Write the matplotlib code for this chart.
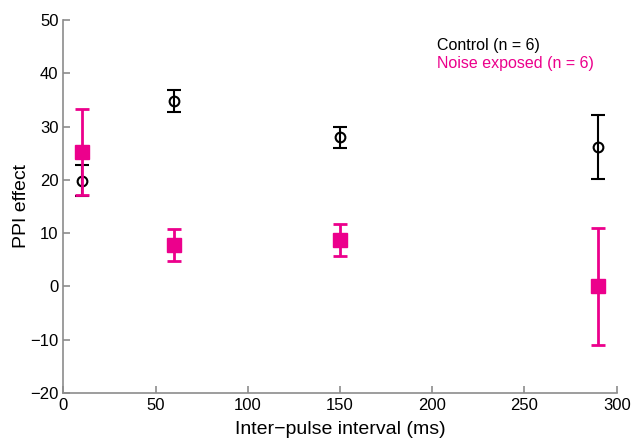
import matplotlib.pyplot as plt

plt.rcParams['font.family'] = ['Liberation Sans', 'DejaVu Sans']

# inter-pulse intervals (ms)
ipi = [10, 60, 150, 290]

# Control group
control_mean = [19.8, 34.8, 28.0, 26.2]
control_err = [2.9, 2.0, 2.0, 6.0]

# Noise exposed group
noise_mean = [25.2, 7.8, 8.8, 0.0]
noise_err = [8.0, 3.0, 3.0, 11.0]

magenta = '#ec008c'
grey = '#8c8c8c'

fig = plt.figure(figsize=(6.34, 4.42), dpi=100)
ax = fig.add_axes([0.0999, 0.1109, 0.8728, 0.8439])

ax.errorbar(ipi, control_mean, yerr=control_err, fmt='o', color='black',
            mfc='none', mec='black', ms=7, mew=1.5, elinewidth=1.5,
            capsize=5, capthick=1.5, zorder=2)
ax.errorbar(ipi, noise_mean, yerr=noise_err, fmt='s', color=magenta,
            mfc=magenta, mec=magenta, ms=10, elinewidth=2,
            capsize=5, capthick=2, zorder=3)

ax.set_xlim(0, 300)
ax.set_ylim(-20, 50)
ax.set_xticks([0, 50, 100, 150, 200, 250, 300])
ax.set_yticks([-20, -10, 0, 10, 20, 30, 40, 50])
ax.set_yticklabels(['\u221220', '\u221210', '0', '10', '20', '30', '40', '50'])

for side in ['top', 'right']:
    ax.spines[side].set_visible(False)
for side in ['left', 'bottom']:
    ax.spines[side].set_color(grey)
    ax.spines[side].set_linewidth(1.2)
ax.tick_params(direction='in', length=5, width=1.2, color=grey,
               labelsize=12, labelcolor='black')

ax.set_xlabel('Inter\u2212pulse interval (ms)', fontsize=14, labelpad=6)
ax.set_ylabel('PPI effect', fontsize=14, labelpad=0)

ax.text(0.676, 0.932, 'Control (n = 6)', transform=ax.transAxes,
        fontsize=11.5, color='black', va='center')
ax.text(0.676, 0.882, 'Noise exposed (n = 6)', transform=ax.transAxes,
        fontsize=11.5, color=magenta, va='center')

plt.savefig('out.png', dpi=100)
